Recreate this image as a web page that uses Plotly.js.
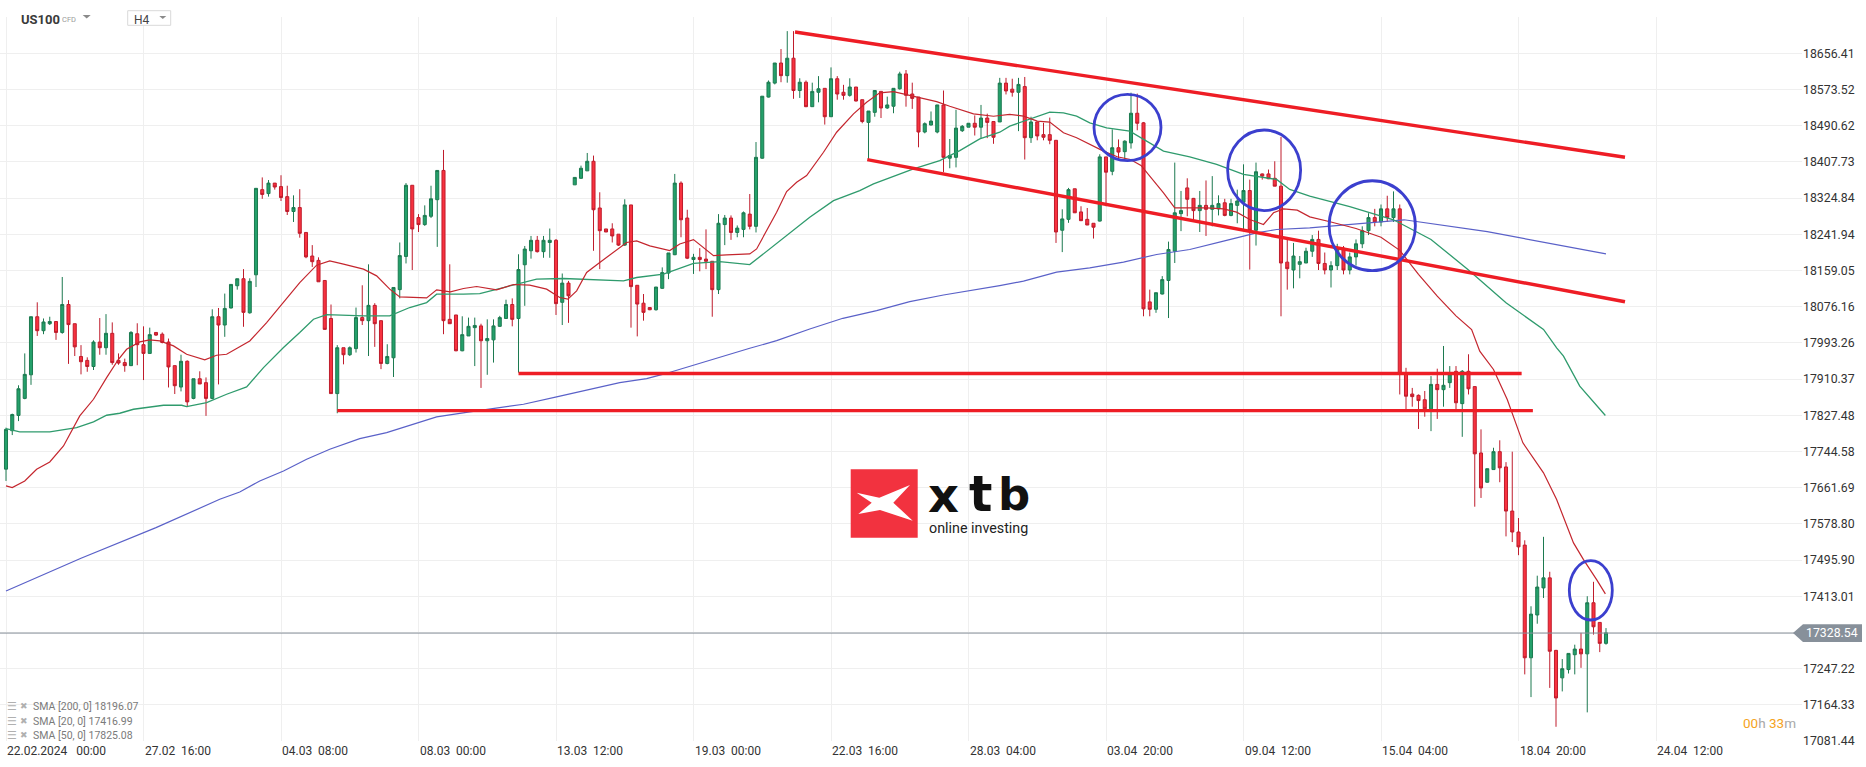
<!DOCTYPE html>
<html><head><meta charset="utf-8">
<script src="https://cdn.plot.ly/plotly-3.0.1.min.js"></script>
<style>html,body{margin:0;padding:0;background:#fff;overflow:hidden}#chart{width:1866px;height:767px}</style>
</head><body><div id="chart"></div>
<script>
// ---------------- DATA ----------------
const symbol = 'US100';
const timeframe = 'H4';
const lastPrice = 17328.54;

const openP = [17704,17792,17827,17866,17920,18053,18021,18037,18042,18017,
18081,18037,17962,17953,17939,17995,17982,18015,17953,17948,
17941,18014,17989,17969,18017,18013,17995,17941,17892,17951,
17866,17911,17902,17866,18053,18034,18073,18124,18140,18062,
18149,18344,18335,18359,18351,18328,18294,18303,18246,18192,
18182,18136,18049,17877,17982,17966,17980,18051,18044,18079,
18044,17946,17959,18115,18191,18354,18280,18264,18283,18321,
18388,18047,18057,17975,18009,18028,18032,17998,18000,18031,
18049,18081,18049,18172,18204,18228,18202,18223,18228,18086,
18130,18355,18370,18387,18409,18302,18254,18254,18242,18217,
18309,18125,18084,18074,18069,18118,18153,18195,18359,18279,
18184,18189,18185,18180,18115,18264,18279,18246,18253,18288,
18260,18416,18556,18588,18634,18605,18645,18571,18590,18534,
18567,18576,18511,18598,18567,18560,18579,18550,18498,18521,
18569,18531,18535,18575,18609,18563,18556,18476,18492,18476,
18538,18416,18418,18479,18487,18496,18487,18508,18500,18499,
18588,18574,18567,18580,18463,18499,18470,18470,18457,18251,
18276,18346,18293,18276,18267,18272,18419,18386,18440,18431,
18451,18519,18497,18087,18070,18105,18136,18203,18289,18348,
18324,18296,18308,18299,18300,18314,18285,18308,18315,18342,
18251,18380,18380,18370,18352,18178,18160,18173,18176,18203,
18230,18175,18160,18170,18210,18160,18190,18220,18250,18280,
18270,18300,18280,18300,17925,17876,17873,17863,17842,17898,
17886,17902,17928,17854,17928,17893,17741,17674,17703,17744,
17709,17608,17560,17530,17272,17370,17432,17455,17289,17226,
17245,17279,17292,17281,17398,17353,17305];

const highP = [17799,17831,17896,17969,18053,18086,18049,18053,18043,18144,
18091,18037,17988,17960,17999,18050,18059,18040,17969,17957,
18020,18038,18031,18028,18018,18017,18003,17941,17966,17953,
17911,17928,17914,18070,18073,18106,18127,18140,18162,18141,
18347,18372,18366,18359,18377,18353,18331,18345,18246,18217,
18189,18136,18081,17988,17982,17985,18074,18125,18173,18084,
18044,17990,18120,18223,18359,18354,18288,18308,18353,18388,
18435,18173,18057,18054,18051,18051,18037,18047,18047,18055,
18092,18095,18196,18215,18238,18238,18238,18255,18231,18152,
18135,18372,18399,18428,18422,18338,18254,18267,18242,18322,
18309,18125,18105,18075,18121,18166,18199,18380,18363,18298,
18197,18210,18253,18180,18288,18286,18285,18262,18294,18334,
18453,18558,18594,18634,18666,18707,18707,18599,18594,18589,
18604,18576,18624,18604,18584,18599,18579,18550,18524,18572,
18569,18557,18576,18614,18618,18589,18556,18498,18523,18538,
18571,18460,18527,18492,18496,18514,18538,18518,18500,18600,
18600,18598,18600,18602,18511,18499,18497,18509,18457,18299,
18348,18346,18306,18302,18267,18425,18419,18482,18459,18457,
18566,18564,18499,18115,18108,18146,18225,18406,18341,18370,
18325,18341,18365,18375,18331,18323,18323,18344,18402,18367,
18406,18381,18390,18409,18465,18230,18222,18192,18211,18240,
18250,18200,18180,18220,18215,18200,18230,18260,18290,18300,
18310,18330,18340,18310,17936,17890,17875,17883,17917,17934,
17986,17940,17940,17931,17967,17893,17795,17705,17753,17770,
17720,17744,17592,17541,17390,17460,17549,17469,17290,17269,
17282,17302,17329,17413,17446,17353,17340];

const lowP = [17677,17782,17814,17864,17897,18009,18013,18034,18000,18014,
17945,17963,17921,17927,17931,17966,17966,17943,17943,17927,
17940,17942,17908,17969,18009,17992,17891,17876,17882,17846,
17864,17899,17826,17864,17898,18007,18072,18115,18030,18060,
18121,18323,18328,18344,18318,18286,18270,18234,18187,18167,
18133,18024,17877,17832,17944,17963,17971,18034,17963,17984,
17933,17944,17915,18095,18175,18160,18247,18261,18279,18213,
18013,18037,17974,17974,18009,17940,17890,17920,17948,18030,
18049,18031,17925,18078,18186,18200,18188,18188,18057,18034,
18039,18355,18369,18387,18204,18162,18247,18223,18215,18215,
18028,18008,18044,18068,18067,18117,18139,18194,18235,18185,
18151,18157,18162,18053,18105,18217,18229,18235,18235,18253,
18246,18415,18555,18585,18590,18589,18552,18554,18533,18534,
18544,18493,18511,18550,18550,18557,18546,18496,18414,18511,
18508,18529,18519,18573,18534,18529,18441,18473,18491,18473,
18384,18393,18395,18476,18487,18468,18462,18462,18449,18499,
18562,18557,18478,18413,18451,18457,18457,18448,18222,18201,
18268,18291,18272,18263,18232,18271,18306,18377,18413,18413,
18438,18480,18054,18054,18062,18104,18050,18176,18249,18283,
18274,18247,18238,18260,18285,18283,18283,18267,18253,18161,
18216,18367,18368,18352,18054,18115,18118,18141,18176,18190,
18160,18150,18120,18160,18150,18150,18170,18210,18240,18260,
18260,18270,18270,17875,17841,17847,17796,17824,17791,17819,
17847,17890,17841,17778,17875,17618,17638,17673,17703,17674,
17550,17537,17507,17234,17182,17350,17409,17203,17114,17195,
17236,17234,17249,17147,17325,17285,17302];

const closeP = [17795,17829,17888,17921,18053,18021,18041,18042,18017,18081,
18035,17984,17950,17939,17995,17982,18015,17948,17947,17941,
18017,17989,17969,18012,18011,17994,17938,17895,17951,17858,
17911,17899,17866,18053,18034,18072,18127,18140,18063,18134,
18347,18333,18359,18350,18326,18294,18303,18244,18190,18179,
18133,18024,17877,17982,17966,17982,18051,18044,18079,18037,
17946,17962,18120,18193,18354,18254,18264,18285,18323,18388,
18044,18037,17975,18012,18031,18033,17998,18003,18032,18051,
18081,18047,18161,18208,18228,18202,18228,18228,18083,18130,
18101,18372,18393,18409,18298,18250,18247,18238,18217,18309,
18122,18082,18063,18069,18121,18154,18199,18359,18275,18187,
18189,18184,18180,18115,18267,18279,18246,18256,18291,18260,
18418,18558,18590,18634,18605,18645,18571,18590,18534,18569,
18575,18511,18598,18563,18560,18579,18547,18500,18524,18571,
18531,18538,18576,18609,18560,18553,18476,18495,18501,18538,
18418,18422,18485,18489,18496,18487,18508,18498,18464,18588,
18570,18567,18585,18463,18499,18467,18464,18457,18247,18277,
18344,18291,18273,18263,18258,18419,18384,18440,18430,18455,
18519,18496,18071,18070,18108,18138,18207,18291,18296,18322,
18296,18308,18299,18308,18312,18285,18312,18318,18342,18251,
18385,18375,18369,18352,18176,18163,18192,18179,18203,18230,
18175,18160,18170,18210,18160,18190,18220,18250,18280,18270,
18300,18280,18300,17921,17871,17870,17861,17842,17898,17886,
17896,17922,17856,17928,17888,17739,17661,17705,17744,17707,
17608,17560,17526,17272,17372,17434,17455,17287,17180,17247,
17282,17292,17281,17398,17343,17305,17329];

// moving-average lines, read at sample candles
const sma20Idx = [0,1,3,4.9,7,9.2,11.8,14,16.1,18,19.3,21.4,23,24.6,26.8,28.9,31.8,33.7,35.3,36.9,39,41.7,44.4,47,49.7,
51.8,54,57.2,59.3,61.4,63,65.2,67.3,68.9,71.1,73.2,75.3,78.5,81.2,83.8,86.5,88.6,89.9,91.3,92.9,95,97.1,99.3,100.9,103,
106.2,107.8,110,111.6,113.2,115.3,119,120.1,122,123.3,124.9,126.5,128.1,130.8,132.9,135.6,137.7,139.8,142,145.2,148.9,151,154.8,158,
160.6,162.8,165,167,169.2,171.3,173.4,175.6,177.8,179.9,181.6,183,185.2,187,189.4,192.1,194.8,196.9,199,201.2,202.8,204.4,206.6,208.6,
212,216,220,223,226,229,232,234.5,235.8,238,240.2,242.7,246,248.1,250.8,252.4,254.5,255.9];
const sma20Val = [17665.5,17661.6,17677,17703.7,17720.5,17757.1,17825.8,17864,17913.6,17955.6,17978.5,17995.3,17999.9,17997.6,17986.2,17967.1,17954.1,17964.8,17967.1,17980.8,17997.6,18039.6,18085.5,18131.3,18171,
18181,18173.4,18161.9,18146.6,18116.1,18098.5,18097,18096.2,18114.6,18110,18117.6,18122.2,18114.6,18126.8,18125.2,18116.1,18097,18093.2,18112.3,18154.3,18177.2,18200.1,18223,18226.8,18215.3,
18204.4,18219.7,18229.6,18212,18192.9,18194.5,18196.8,18208.2,18257.9,18292.2,18339.6,18360.9,18376.2,18429.7,18475.5,18517.5,18544.2,18565.6,18568.6,18557.9,18545.7,18535,18517.5,18512.1,
18516.2,18512.4,18500.9,18498.6,18474.2,18462.8,18447.5,18432.2,18419.3,18413.1,18399.4,18375,18336.8,18302.4,18302.4,18302.4,18300.1,18292.5,18275.7,18264.2,18291,18300.1,18297.1,18281.8,
18270,18255,18235,18205,18150,18100,18055,18023.8,17974.2,17932.2,17863.4,17764.2,17695.5,17634.4,17535.1,17496.9,17451.1,17418.3];

const sma50Idx = [0,2.2,7,11.3,14,16.1,18.2,20.4,25.2,28.1,28.9,32.1,35.3,38.5,41.2,44.4,47,49.2,51.3,
57.2,61.4,64.6,67.3,68.9,73.2,75.8,79.6,81.7,84.9,89.2,94.5,98.8,100.9,105.2,
110,114.2,119,122.2,124.9,128.6,132.4,136.6,138.8,142,145.2,149.4,152.6,155.8,159,
160.6,163.8,167,169.2,171.3,173.4,176.1,179.8,182,185.2,189.4,193.7,198,201.2,203.3,205.4,208.6,
215,222,228,234,240,244,246,248.1,249.2,251.8,255.9];
const sma50Val = [17796.8,17789.2,17789.2,17799.1,17812.1,17827.4,17832,17841.1,17850.3,17850.3,17847.2,17856.4,17875.5,17892.3,17936.5,17982.4,18016.7,18047.3,18058,
18055,18055,18074.1,18085.5,18104.6,18104.6,18106.1,18119.9,18127.5,18139,18140.5,18137.5,18135.2,18142.8,18150.4,
18175.4,18179.2,18172.3,18208.2,18238.8,18280.7,18318.9,18341.8,18357.1,18374.7,18391.5,18410.6,18433.5,18460.2,18475.5,
18489.5,18506.3,18521.6,18520,18512.4,18497.1,18485.7,18478,18459,18432.2,18419.3,18401.7,18378.8,18372.7,18367.3,18344.4,18329.1,
18305,18275,18230,18160,18085,18045,18023.8,17981.8,17962.7,17894,17826.8];

const sma200Idx = [0,12,24,34.2,37.4,40.6,44.4,48.1,51.8,53.4,56.6,60.9,65.2,68.9,74.2,78.5,82.8,88.1,93.4,98.2,102.5,105.2,
119,123.3,128.6,133.9,139.3,144.6,150,155.3,159,162.8,168.1,173.4,178.8,184.1,189.4,194.8,200.1,203.3,208.6,223.7,237,256];
const sma200Val = [17425,17500,17570,17634.9,17651.7,17676.9,17699.8,17726.6,17749.5,17757.1,17774,17787.7,17806.8,17823.6,17835.1,17843.5,17852.6,17869.4,17887,17902.2,17911.4,17921.4,
17980.7,17998.2,18025,18049.4,18067,18087.6,18102.8,18115,18124.3,18134.4,18155,18165,18178,18195.5,18207,18226.1,18245.1,18252.8,18256.6,18275,18247.7,18197];

const legendRows = ['SMA [200, 0] 18196.07', 'SMA [20, 0] 17416.99', 'SMA [50, 0] 17825.08'];

const xTickIdx = [0,22,44,66,88,110,132,154,176,198,220,242,264];
const xTickText = ['22.02.2024\u00a0\u00a0\u00a000:00','27.02\u00a0\u00a016:00','04.03\u00a0\u00a008:00','08.03\u00a0\u00a000:00',
  '13.03\u00a0\u00a012:00','19.03\u00a0\u00a000:00','22.03\u00a0\u00a016:00','28.03\u00a0\u00a004:00','03.04\u00a0\u00a020:00',
  '09.04\u00a0\u00a012:00','15.04\u00a0\u00a004:00','18.04\u00a0\u00a020:00','24.04\u00a0\u00a012:00'];

const yTickVals = [17081.44,17164.33,17247.22,17330.12,17413.01,17495.90,17578.80,17661.69,17744.58,17827.48,
  17910.37,17993.26,18076.16,18159.05,18241.94,18324.84,18407.73,18490.62,18573.52,18656.41];
const yTickText = ['17081.44','17164.33','17247.22','','17413.01','17495.90','17578.80','17661.69','17744.58','17827.48',
  '17910.37','17993.26','18076.16','18159.05','18241.94','18324.84','18407.73','18490.62','18573.52','18656.41'];

// drawn lines (candle index, price)
const channelUpper = {idx:[126.24,259.04], price:[18705.0,18418.1]};
const channelLower = {idx:[137.8,259.04], price:[18412.6,18087.4]};
const levelHigh = {idx:[82.0,242.5], price:[17923,17923]};
const levelLow = {idx:[53.0,244.3], price:[17838,17838]};
// circles: centre index, centre price, radius (index), radius (price)
const circleIdx = [179.44,201.3,218.6,253.57];
const circlePrice = [18486.3,18388.3,18261.4,17426.5];
const circleRIdx = [5.36,5.84,6.9,3.44];
const circleRPrice = [76,92.3,103,68];

// logo words
const logoLetters = ['x','t','b'];
const logoTagline = 'online investing';

// ---------------- LAYOUT ----------------
const W = 1802, TOP = 17, BOT = 741, H = BOT - TOP;
const yRange = [17081.44, 18739.36];
const ppx = (yRange[1]-yRange[0]) / H;
const PX = x => x / W;
const PY = y => (BOT - y) / H;
const FONT = 'Roboto, "Noto Sans", sans-serif';

const idx = openP.map((_, i) => i);

const traces = [
  {type:'candlestick', x: idx, open: openP, high: highP, low: lowP, close: closeP,
   increasing:{line:{color:'#1c7a50', width:1}, fillcolor:'#24a06b'},
   decreasing:{line:{color:'#bf1c2c', width:1}, fillcolor:'#f7323f'},
   whiskerwidth:0, hoverinfo:'skip', showlegend:false},
  {type:'scatter', mode:'lines', x: sma200Idx, y: sma200Val, line:{color:'#5a61c8', width:1.2}, hoverinfo:'skip', showlegend:false},
  {type:'scatter', mode:'lines', x: sma50Idx, y: sma50Val, line:{color:'#2f9b6d', width:1.3}, hoverinfo:'skip', showlegend:false},
  {type:'scatter', mode:'lines', x: sma20Idx, y: sma20Val, line:{color:'#c4262e', width:1.2}, hoverinfo:'skip', showlegend:false}
];

const shapes = [];
const RED = '#ee1d25';
[channelUpper, channelLower, levelHigh, levelLow].forEach(l => {
  shapes.push({type:'line', xref:'x', yref:'y', x0:l.idx[0], x1:l.idx[1], y0:l.price[0], y1:l.price[1],
    line:{color:RED, width:3.4}});
});
circleIdx.forEach((c, i) => {
  shapes.push({type:'circle', xref:'x', yref:'y', x0:c-circleRIdx[i], x1:c+circleRIdx[i],
    y0:circlePrice[i]-circleRPrice[i], y1:circlePrice[i]+circleRPrice[i], line:{color:'#3b3fce', width:2.8}});
});
// current price line + tag
shapes.push({type:'line', xref:'paper', yref:'y', x0:0, x1:PX(1795), y0:lastPrice, y1:lastPrice, line:{color:'#87909a', width:1}});
const th = 8.8 * ppx;
shapes.push({type:'path', xref:'paper', yref:'y', fillcolor:'#87909a', line:{width:0},
  path:`M ${PX(1793)},${lastPrice} L ${PX(1803)},${lastPrice+th} L ${PX(1862)},${lastPrice+th} L ${PX(1862)},${lastPrice-th} L ${PX(1803)},${lastPrice-th} Z`});
// logo
shapes.push({type:'rect', xref:'paper', yref:'paper', x0:PX(850.7), x1:PX(917.7), y0:PY(537.7), y1:PY(469.3), fillcolor:'#f2323f', line:{width:0}});
const xPts = [[856.7,492.7],[879.3,497.7],[910,485],[893.3,502.7],[912.7,520.7],[880,510],[858.3,514],[871.7,502.7]];
shapes.push({type:'path', xref:'paper', yref:'paper', fillcolor:'#ffffff', line:{width:0},
  path: 'M ' + xPts.map(p => PX(p[0]) + ',' + PY(p[1])).join(' L ') + ' Z'});
// header controls
shapes.push({type:'path', xref:'paper', yref:'paper', fillcolor:'#8a8a8a', line:{width:0},
  path:`M ${PX(82.7)},${PY(15)} L ${PX(90.7)},${PY(15)} L ${PX(86.7)},${PY(18.5)} Z`});
shapes.push({type:'rect', xref:'paper', yref:'paper', x0:PX(127.7), x1:PX(170.7), y0:PY(25.3), y1:PY(10.7), fillcolor:'#ffffff', line:{color:'#d9d9d9', width:1}});
shapes.push({type:'path', xref:'paper', yref:'paper', fillcolor:'#8a8a8a', line:{width:0},
  path:`M ${PX(159.3)},${PY(16)} L ${PX(166.3)},${PY(16)} L ${PX(162.8)},${PY(19)} Z`});

const annotations = [];
xTickIdx.forEach((t, i) => {
  annotations.push({xref:'x', yref:'paper', x:t, y:0, xanchor:'left', yanchor:'top', yshift:-1, xshift:-1,
    text:xTickText[i], showarrow:false, font:{family:FONT, size:12, color:'#333333'}});
});
annotations.push({xref:'paper', yref:'y', x:PX(1804), y:lastPrice, xanchor:'left', yanchor:'middle',
  text: lastPrice.toFixed(2), showarrow:false, font:{family:FONT, size:12.3, color:'#ffffff'}});
annotations.push({xref:'paper', yref:'paper', x:PX(1798), y:PY(723), xanchor:'right', yanchor:'middle', showarrow:false,
  text:'<span style="color:#f5a321">00</span><span style="color:#a8a8a8">h</span> <span style="color:#f5a321">33</span><span style="color:#a8a8a8">m</span>',
  font:{family:FONT, size:13.5, color:'#a8a8a8'}});
const legendY = [706, 721, 735];
legendRows.forEach((t, i) => {
  annotations.push({xref:'paper', yref:'paper', x:PX(30.5), y:PY(legendY[i]), xanchor:'left', yanchor:'middle', showarrow:false,
    text:t, font:{family:FONT, size:10.5, color:'#7a7a7a'}});
  annotations.push({xref:'paper', yref:'paper', x:PX(4.5), y:PY(legendY[i]), xanchor:'left', yanchor:'middle', showarrow:false,
    text:'\u2630', font:{family:'DejaVu Sans', size:11, color:'#b0b0b0'}});
  annotations.push({xref:'paper', yref:'paper', x:PX(18), y:PY(legendY[i]), xanchor:'left', yanchor:'middle', showarrow:false,
    text:'\u2716', font:{family:'DejaVu Sans', size:9, color:'#b0b0b0'}});
});
annotations.push({xref:'paper', yref:'paper', x:PX(19), y:PY(19), xanchor:'left', yanchor:'middle', showarrow:false,
  text:'<b>' + symbol + '</b>', font:{family:FONT, size:13, color:'#3a3a3a'}});
annotations.push({xref:'paper', yref:'paper', x:PX(59.5), y:PY(19.5), xanchor:'left', yanchor:'middle', showarrow:false,
  text:'CFD', font:{family:FONT, size:7.5, color:'#9a9a9a'}});
annotations.push({xref:'paper', yref:'paper', x:PX(131.5), y:PY(20), xanchor:'left', yanchor:'middle', showarrow:false,
  text:timeframe, font:{family:FONT, size:12, color:'#444444'}});
const letterX = [926, 967, 996];
const letterSize = [48, 49, 45];
const letterY = [495, 494.5, 494];
logoLetters.forEach((l, i) => {
  annotations.push({xref:'paper', yref:'paper', x:PX(letterX[i]), y:PY(letterY[i]), xanchor:'left', yanchor:'middle', showarrow:false,
    text:l, font:{family:'DejaVu Sans', size:letterSize[i], color:'#111111', weight:'bold'}});
});
annotations.push({xref:'paper', yref:'paper', x:PX(927), y:PY(527.5), xanchor:'left', yanchor:'middle', showarrow:false,
  text:logoTagline, font:{family:FONT, size:14.3, color:'#222222'}});

const layout = {
  width:1866, height:767, margin:{l:0, r:64, t:TOP, b:767-BOT},
  paper_bgcolor:'#ffffff', plot_bgcolor:'#ffffff',
  showlegend:false, dragmode:false,
  xaxis:{range:[-0.96, 287.36], tickvals:xTickIdx, ticktext:xTickText, showticklabels:false,
    showgrid:true, gridcolor:'#efefef', gridwidth:1, zeroline:false, showline:false, ticks:'',
    rangeslider:{visible:false}, fixedrange:true},
  yaxis:{range:yRange, side:'right', tickvals:yTickVals, ticktext:yTickText, showgrid:true, gridcolor:'#efefef',
    zeroline:false, showline:false, ticks:'', tickfont:{family:FONT, size:12.3, color:'#333333'}, fixedrange:true},
  shapes, annotations,
  font:{family:FONT}
};

Plotly.newPlot('chart', traces, layout, {staticPlot:true, displayModeBar:false});
</script>
</body></html>
